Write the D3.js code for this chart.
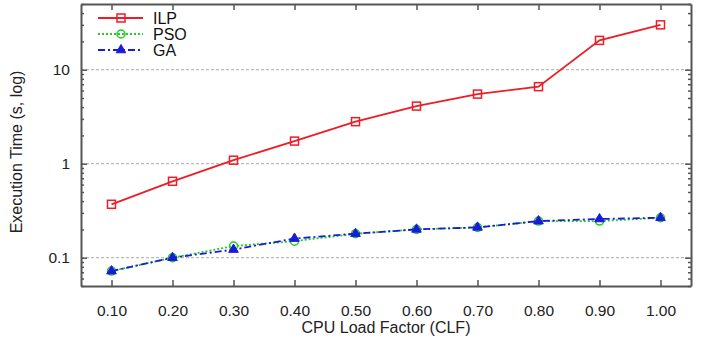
<!DOCTYPE html>
<html>
<head>
<meta charset="utf-8">
<script src="https://cdn.jsdelivr.net/npm/d3@7"></script>
<style>
  body { margin: 0; background: #fff; }
  svg { display: block; font-family: "Liberation Sans", Arial, sans-serif; }
</style>
</head>
<body>
<div id="chart"></div>
<script>
const clf = [0.1, 0.2, 0.3, 0.4, 0.5, 0.6, 0.7, 0.8, 0.9, 1.0];
const ilp = [0.37, 0.65, 1.09, 1.74, 2.8, 4.1, 5.5, 6.6, 20.5, 30];
const pso = [0.072, 0.1, 0.133, 0.15, 0.18, 0.2, 0.21, 0.245, 0.245, 0.266];
const ga = [0.072, 0.1, 0.122, 0.16, 0.18, 0.2, 0.21, 0.245, 0.258, 0.266];
const yTicks = [0.1, 1, 10];
const seriesNames = ['ILP', 'PSO', 'GA'];

const W = 701, H = 342;
const margin = { top: 4, right: 10, bottom: 56, left: 81 };
const width = W - margin.left - margin.right;
const height = H - margin.top - margin.bottom;

const svg = d3.select('#chart').append('svg')
    .attr('width', W).attr('height', H);
const g = svg.append('g')
    .attr('transform', `translate(${margin.left},${margin.top})`);

const x = d3.scaleLinear().domain([0.05, 1.05]).range([0, width]);
const y = d3.scaleLog().domain([0.05, 50]).range([height, 0]);

// gridlines
g.append('g')
    .selectAll('line')
    .data(yTicks)
    .join('line')
    .attr('x1', 0).attr('x2', width)
    .attr('y1', d => y(d)).attr('y2', d => y(d))
    .attr('stroke', '#aaa')
    .attr('stroke-width', 1)
    .attr('stroke-dasharray', '3,2');

// minor ticks for log scale (inside left and right)
const minor = [];
[0.01, 0.1, 1, 10].forEach(dec => {
    for (let k = 2; k <= 9; k++) {
        const v = dec * k;
        if (v >= 0.05 && v <= 50) minor.push(v);
    }
});

// axes
const axisColor = '#555';
g.append('g')
    .attr('transform', `translate(0,${height})`)
    .call(d3.axisBottom(x).tickValues(clf).tickFormat(d3.format('.2f')).tickSizeInner(-6).tickSizeOuter(0).tickPadding(19));
g.append('g')
    .call(d3.axisTop(x).tickValues(clf).tickFormat('').tickSizeInner(-6).tickSizeOuter(0));
g.append('g')
    .call(d3.axisLeft(y).tickValues(yTicks).tickFormat(d3.format('~g')).tickSizeInner(-6).tickSizeOuter(0).tickPadding(11));
g.append('g')
    .attr('transform', `translate(${width},0)`)
    .call(d3.axisRight(y).tickValues(yTicks).tickFormat('').tickSizeInner(-6).tickSizeOuter(0));

g.append('g')
    .call(d3.axisLeft(y).tickValues(minor).tickFormat('').tickSizeInner(-3).tickSizeOuter(0))
    .call(a => a.select('.domain').remove());
g.append('g')
    .attr('transform', `translate(${width},0)`)
    .call(d3.axisRight(y).tickValues(minor).tickFormat('').tickSizeInner(-3).tickSizeOuter(0))
    .call(a => a.select('.domain').remove());

g.selectAll('.domain').attr('stroke', axisColor).attr('stroke-width', 2);
g.selectAll('.tick line').attr('stroke', axisColor).attr('stroke-width', 1.5);
g.selectAll('.tick text')
    .attr('fill', '#222')
    .style('font-size', '15.5px');

// series
const lineGen = vals => d3.line()
    .x((d, i) => x(clf[i]))
    .y(d => y(d))(vals);

const series = [
    { name: 'ILP', values: ilp, color: '#ee1c25', dash: null, marker: 'square' },
    { name: 'PSO', values: pso, color: '#22cc22', dash: '2,2', marker: 'circle' },
    { name: 'GA', values: ga, color: '#1a1adf', dash: '7,3,2,3', marker: 'triangle' }
];

function drawMarker(sel, s) {
    if (s.marker === 'square') {
        sel.append('rect')
            .attr('x', -4).attr('y', -4).attr('width', 8).attr('height', 8)
            .attr('fill', 'none').attr('stroke', s.color).attr('stroke-width', 1.5);
    } else if (s.marker === 'circle') {
        sel.append('circle')
            .attr('r', 4).attr('fill', 'none')
            .attr('stroke', s.color).attr('stroke-width', 1.5);
    } else {
        sel.append('path')
            .attr('d', d3.symbol(d3.symbolTriangle, 40)())
            .attr('fill', s.color).attr('stroke', s.color);
    }
}

series.forEach(s => {
    g.append('path')
        .attr('d', lineGen(s.values))
        .attr('fill', 'none')
        .attr('stroke', s.color)
        .attr('stroke-width', 1.8)
        .attr('stroke-dasharray', s.dash);
    s.values.forEach((v, i) => {
        const m = g.append('g').attr('transform', `translate(${x(clf[i])},${y(v)})`);
        drawMarker(m, s);
    });
});

// legend
const legend = svg.append('g');
series.forEach((s, i) => {
    const ly = 18 + i * 16;
    legend.append('line')
        .attr('x1', 98).attr('x2', 143)
        .attr('y1', ly).attr('y2', ly)
        .attr('stroke', s.color).attr('stroke-width', 1.8)
        .attr('stroke-dasharray', s.dash);
    const m = legend.append('g').attr('transform', `translate(121,${ly})`);
    drawMarker(m, s);
    legend.append('text')
        .attr('x', 153).attr('y', ly + 6)
        .attr('fill', '#111')
        .style('font-size', '16px')
        .text(s.name);
});

// axis titles
svg.append('text')
    .attr('x', margin.left + width / 2)
    .attr('y', 333)
    .attr('text-anchor', 'middle')
    .attr('fill', '#222')
    .style('font-size', '16px')
    .text('CPU Load Factor (CLF)');

svg.append('text')
    .attr('transform', `translate(22,${margin.top + height / 2 + 7}) rotate(-90)`)
    .attr('text-anchor', 'middle')
    .attr('fill', '#222')
    .style('font-size', '16px')
    .text('Execution Time (s, log)');
</script>
</body>
</html>
